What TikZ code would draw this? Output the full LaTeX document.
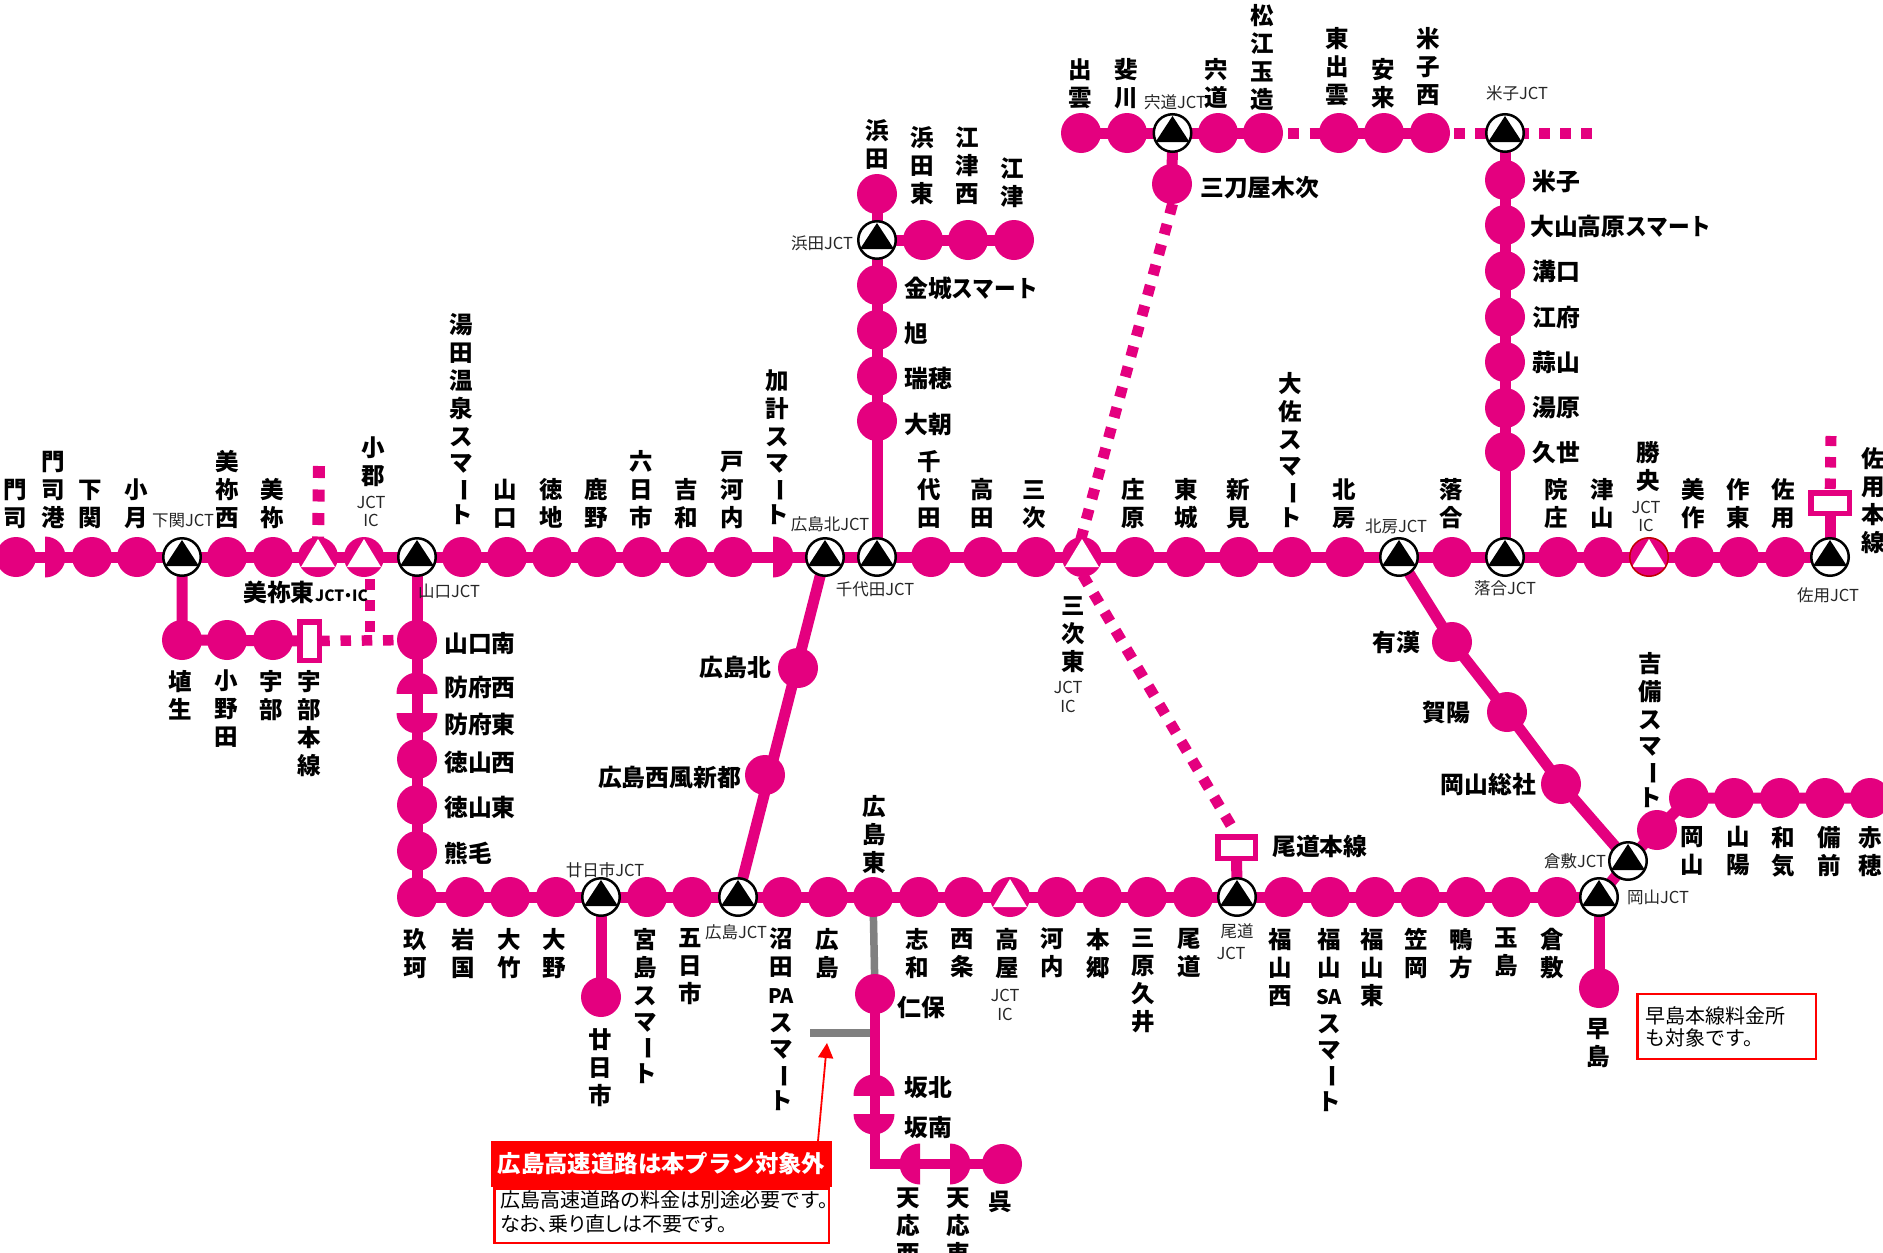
\documentclass[tikz,border=0pt]{standalone}
\usepackage{fontspec}
\usetikzlibrary{backgrounds,arrows.meta}
\newfontfamily\jpf{Noto Sans CJK JP}
\newfontfamily\jpp{Noto Sans CJK JP}[RawFeature=+palt]
\definecolor{rosen}{HTML}{E4007F}
\definecolor{darkic}{HTML}{C00000}
\newcounter{lb}
\newcommand\cho{\raisebox{2pt}[18pt][3pt]{\rotatebox[origin=c]{-90}{ー}}}
\newcommand\smv{ス\\[-2pt]マ\\[-2pt]\cho\\[-2pt]ト}
\newcommand\ltn[1]{{\fontsize{20}{28}\selectfont #1}}
\newcommand\smart{\scalebox{.91}[1]{スマート}}
\tikzset{
 stn/.style={circle,fill=rosen,inner sep=0,minimum size=40pt},
 jct/.style={circle,draw=black,line width=2.5pt,fill=white,inner sep=0,minimum size=37.5pt,
   path picture={\fill[black] ([shift={(0,-17)}]path picture bounding box.center) -- ([shift={(17,9)}]path picture bounding box.center) -- ([shift={(-17,9)}]path picture bounding box.center) -- cycle;}},
 ict/.style={stn,path picture={\fill[white] ([shift={(0,-18)}]path picture bounding box.center) -- ([shift={(17,10)}]path picture bounding box.center) -- ([shift={(-17,10)}]path picture bounding box.center) -- cycle;}},
 tbox/.style={rectangle,draw=rosen,line width=5.5pt,fill=white,inner sep=0},
 rail/.style={rosen,line width=11pt},
 dots/.style={rosen,line width=11pt,dash pattern=on 10.5pt off 10.6pt},
 grayrail/.style={draw=black!50,line width=7.5pt},
 vlab/.style={font=\jpf\bfseries\fontsize{23.5}{28}\selectfont,align=center,inner sep=0},
 hlab/.style={font=\jpf\bfseries\fontsize{23.8}{28}\selectfont,inner sep=0,anchor=base west,yshift=-8.7pt},
 slab/.style={font=\jpf\fontsize{16.5}{19}\selectfont,text=black!85,inner sep=0,anchor=base,yshift=-6pt},
 redbox/.style={rectangle,draw=red,line width=2.5pt,fill=white,inner sep=0,align=left}
}
% labels
\newcommand\ulab[3]{\stepcounter{lb}\node[vlab,anchor=south,text depth=0pt,yshift=-2pt] (lb\thelb) at (#1,#2) {#3};}
\newcommand\dlab[3]{\stepcounter{lb}\node[vlab,anchor=north,yshift=2pt] (lb\thelb) at (#1,#2) {#3};}
\newcommand\hlabl[3]{\stepcounter{lb}\node[hlab] (lb\thelb) at (#1,#2) {#3};}
\newcommand\hlabr[3]{\stepcounter{lb}\node[hlab,anchor=base east] (lb\thelb) at (#1,#2) {#3};}
\newcommand\smlab[3]{\stepcounter{lb}\node[slab] (lb\thelb) at (#1,#2) {#3};}
% half stations
\newcommand\hst[7]{\begin{scope}\clip ({#2+#4},{#3+#5}) rectangle ({#2+#6},{#3+#7});\node[stn,minimum size=41pt] (#1) at (#2,#3) {};\end{scope}}
\newcommand\halfR[3]{\hst{#1}{#2}{#3}{0}{-22}{22}{22}}
\newcommand\halfL[3]{\hst{#1}{#2}{#3}{-22}{-22}{0}{22}}
\newcommand\halfT[3]{\hst{#1}{#2}{#3}{-22}{-22}{22}{0}}
\newcommand\halfB[3]{\hst{#1}{#2}{#3}{-22}{0}{22}{22}}
\begin{document}
\begin{tikzpicture}[x=1pt,y=-1pt]
\useasboundingbox (0,0) rectangle (1883,1253);
% ---------- main upper line
\foreach \n/\x in {moji/16,shimo/92,ozuki/137,minesai/227,mine/273,yuda/462,yama/507,toku/552,kano/597,muika/642,yoshi/688,togo/733,chiyo/931,taka/983,miyo/1036,shobara/1135,tojo/1186,nii/1239,osa/1292,hokub/1345,ochi/1452,insho/1558,tsuya/1603,mima/1694,saku/1739,sayo/1785}
  \node[stn] (\n) at (\x,557) {};
\halfR{mojiko}{45}{557}
\halfR{kake}{773}{557}
\node[ict] (mineh) at (318,557) {};
\node[ict] (ogori) at (364,557) {};
\node[ict] (miyoh) at (1082,557) {};
\node[ict,draw=darkic,line width=1.5pt,minimum size=38.5pt] (shoo) at (1649,557) {};
\node[jct] (shimoJ) at (182,557) {};
\node[jct] (yamaJ) at (417,557) {};
\node[jct] (hkitaJ) at (825,557) {};
\node[jct] (chiyoJ) at (877,557) {};
\node[jct] (hokuJ) at (1399,557) {};
\node[jct] (ochiJ) at (1505,557) {};
\node[jct] (sayoJ) at (1830,557) {};
% ---------- ube branch
\foreach \n/\x in {habu/182,onoda/227,ube/273} \node[stn] (\n) at (\x,640) {};
\node[tbox,minimum width=19.5pt,minimum height=38.5pt] (ubeL) at (309.5,641) {};
% ---------- sanyo vertical
\foreach \n/\y in {yminami/640,tnishi/759,thigashi/805,kuma/851} \node[stn] (\n) at (417,\y) {};
\halfT{hnishi}{417}{693}
\halfB{hhigashi}{417}{713}
% ---------- lower line
\foreach \n/\x in {kuga/417,iwa/465,otake/510,ono/556,miya/647,itsu/692,numa/782,hiro/828,hhig/873,shiwa/919,saijo/964,kochi/1057,hongo/1102,mihara/1147,onomichi/1193,fnishi/1284,fsa/1330,fhig/1375,kasa/1420,kamo/1466,tama/1511,kura/1557}
  \node[stn] (\n) at (\x,897) {};
\node[ict] (takaya) at (1010,897) {};
\node[jct] (hatsuJ) at (601,897) {};
\node[jct] (hiroJ) at (738,897) {};
\node[jct] (onoJ) at (1237,897) {};
\node[jct] (okaJ) at (1599,897) {};
\node[jct] (kuraJ) at (1628,861) {};
\node[stn] (hatsu) at (601,997) {};
\node[stn] (hayashima) at (1599,988) {};
% ---------- hiroshima north
\node[stn] (hkita) at (798,668) {};
\node[stn] (hsei) at (765,775) {};
% ---------- hamada
\foreach \n/\y in {hama/194,kana/285,asahi/330,mizu/376,oasa/421} \node[stn] (\n) at (877,\y) {};
\node[jct] (hamaJ) at (877,240) {};
\foreach \n/\x in {hamah/923,gnishi/968,gotsu/1014} \node[stn] (\n) at (\x,240) {};
% ---------- top line
\foreach \n/\x in {izumo/1081,hikawa/1127,shinji/1218,matsue/1263,hizumo/1339,yasugi/1384,ynishi/1430} \node[stn] (\n) at (\x,133) {};
\node[jct] (shinjiJ) at (1172.5,133) {};
\node[jct] (yonaJ) at (1505,133) {};
\node[stn] (mito) at (1172,184) {};
% ---------- yonago down
\foreach \n/\y in {yona/180,dais/225,mizo/271,kofu/317,hiru/362,yuba/408,kuse/452} \node[stn] (\n) at (1505,\y) {};
% ---------- okayama diag
\node[stn] (uka) at (1452,642) {};
\node[stn] (kayo) at (1507,712) {};
\node[stn] (soja) at (1561,784) {};
\node[stn] (kibi) at (1657,830) {};
\foreach \n/\x in {oka/1689,sanyo/1734,wake/1780,bizen/1825,ako/1870} \node[stn] (\n) at (\x,798) {};
% ---------- hiroshima expressway
\node[stn] (nihou) at (875,994) {};
\halfT{sakak}{874}{1095}
\halfB{sakam}{874}{1114}
\halfL{tenw}{920}{1164}
\halfR{tene}{950}{1164}
\node[stn] (kure) at (1002,1164) {};
% ---------- toll boxes
\node[tbox,minimum width=38.5pt,minimum height=20.5pt] (sayoL) at (1830,503) {};
\node[tbox,minimum width=37.5pt,minimum height=21.5pt] (onoL) at (1236.5,847.5) {};
% ---------- free ends
\coordinate (minetop) at (319,466);
\coordinate (ogt) at (370,557);
\coordinate (ogb) at (370,640);
\coordinate (sayotop) at (1831,436);
\coordinate (yonaend) at (1592,133);
\coordinate (mitoend) at (1178,184);
\coordinate (miyotop) at (1076,557);
\coordinate (miyolow) at (1072,557);
\coordinate (onotop) at (1236,834);
\coordinate (g0) at (810,1033);
\coordinate (g1) at (870,1033);
\coordinate (a0) at (818,1141);
\coordinate (a1) at (827,1043);
% ---------- connectors
\begin{scope}[on background layer]
\fill[white] (0,0) rectangle (1883,1253);
\draw[rail] (moji.center) -- (sayoJ.center);
\draw[rail] (shimoJ.center) -- (habu.center) -- (ubeL.center);
\draw[dots,line width=12pt,dash pattern=on 12pt off 11.5pt,dash phase=15pt] (mineh.center) -- (minetop);
\draw[dots,line width=10.5pt,dash phase=20pt] (ogt) -- (ogb);
\draw[dots,line width=10.5pt,dash pattern=on 10.5pt off 10.75pt,dash phase=11.5pt] (ubeL.center) -- (yminami.center);
\draw[rail] (yamaJ.center) -- (kuga.center) -- (okaJ.center);
\draw[rail] (hatsuJ.center) -- (hatsu.center);
\draw[rail] (hkitaJ.center) -- (hiroJ.center);
\draw[rail] (chiyoJ.center) -- (hama.center);
\draw[rail] (hamaJ.center) -- (gotsu.center);
\draw[rail] (izumo.center) -- (matsue.center);
\draw[rail] (hizumo.center) -- (ynishi.center);
\draw[dots,dash pattern=on 10.5pt off 11pt,dash phase=18pt] (matsue.center) -- (hizumo.center);
\draw[dots,dash pattern=on 10.5pt off 10.5pt,dash phase=18pt] (ynishi.center) -- (yonaJ.center);
\draw[dots,dash pattern=on 10.5pt off 10.5pt,dash phase=8pt] (yonaJ.center) -- (yonaend);
\draw[rail] (shinjiJ.center) -- (mito.center);
\draw[rail] (yonaJ.center) -- (ochiJ.center);
\draw[rail] (sayoJ.center) -- (sayoL.center);
\draw[dots,dash pattern=on 10.5pt off 11pt,dash phase=7.5pt] (sayoL.center) -- (sayotop);
\draw[rail] (onoJ.center) -- (onoL.center);
\draw[dots,dash phase=.5pt] (mitoend) -- (miyotop);
\draw[dots,dash pattern=on 11pt off 10.5pt,dash phase=.5pt] (miyolow) -- (onotop);
\draw[rail] (hokuJ.center) -- (uka.center) -- (kayo.center) -- (soja.center) -- (kuraJ.center) -- (okaJ.center);
\draw[rail] (kuraJ.center) -- (kibi.center) -- (oka.center) -- (ako.center);
\draw[rail] (okaJ.center) -- (hayashima.center);
\draw[grayrail] (hhig.center) -- (nihou.center);
\draw[grayrail] (g0) -- (g1);
\draw[rail,line width=10pt] (nihou.center) |- (kure.center);
\end{scope}
% ---------- notes
\draw[red,line width=1.8pt,-{Triangle[length=15pt,width=15pt]}] (a0) -- (a1);
\node[redbox,minimum width=334.5pt,minimum height=54.5pt] (note1) at (661.5,1215.5) {};
\node[inner sep=0,text width=323pt,align=left,font=\jpf\fontsize{20}{24}\selectfont] (note1t) at (661.5,1212) {広島高速道路の料金は別途必要です。\\{\jpp なお、乗り直しは不要です。}};
\node[rectangle,fill=red,inner sep=0,minimum width=341pt,minimum height=46pt,text=white,font=\jpf\bfseries\fontsize{23.4}{28}\selectfont] (hdr) at (661.5,1164) {\raisebox{-2pt}{広島高速道路は本プラン対象外}};
\node[redbox,minimum width=178.5pt,minimum height=65pt,text width=163pt,font=\jpf\fontsize{20}{22}\selectfont] (note2) at (1726.5,1026.5) {早島本線料金所\\も対象です。};
% ---------- upper labels main line
\ulab{15}{525}{門\\司}
\ulab{53}{525}{門\\司\\港}
\ulab{90}{525}{下\\関}
\ulab{136}{525}{小\\月}
\ulab{227}{525}{美\\祢\\西}
\ulab{272}{525}{美\\祢}
\ulab{373}{483}{小\\郡}
\ulab{461}{522}{湯\\田\\温\\泉\\\smv}
\ulab{505}{525}{山\\口}
\ulab{551}{525}{徳\\地}
\ulab{596}{525}{鹿\\野}
\ulab{641}{525}{六\\日\\市}
\ulab{686}{525}{吉\\和}
\ulab{732}{525}{戸\\河\\内}
\ulab{777}{522}{加\\計\\\smv}
\ulab{929}{525}{千\\代\\田}
\ulab{982}{525}{高\\田}
\ulab{1034}{525}{三\\次}
\ulab{1133}{525}{庄\\原}
\ulab{1186}{525}{東\\城}
\ulab{1238}{525}{新\\見}
\ulab{1290}{525}{大\\佐\\\smv}
\ulab{1344}{525}{北\\房}
\ulab{1451}{525}{落\\合}
\ulab{1556}{525}{院\\庄}
\ulab{1602}{525}{津\\山}
\ulab{1648}{488}{勝\\央}
\ulab{1693}{525}{美\\作}
\ulab{1738}{525}{作\\東}
\ulab{1783}{525}{佐\\用}
\ulab{1873}{550}{佐\\用\\本\\線}
% lower labels
\dlab{180}{672}{埴\\生}
\dlab{226}{672}{小\\野\\田}
\dlab{271}{672}{宇\\部}
\dlab{309}{672}{宇\\部\\本\\線}
\dlab{415}{930}{玖\\珂}
\dlab{463}{930}{岩\\国}
\dlab{509}{930}{大\\竹}
\dlab{554}{930}{大\\野}
\dlab{645}{930}{宮\\島\\\smv}
\dlab{690}{930}{五\\日\\市}
\dlab{781}{930}{沼\\田\\\ltn{PA}\\\smv}
\dlab{827}{930}{広\\島}
\ulab{874}{870}{広\\島\\東}
\dlab{917}{930}{志\\和}
\dlab{962}{930}{西\\条}
\dlab{1007}{930}{高\\屋}
\dlab{1052}{930}{河\\内}
\dlab{1098}{930}{本\\郷}
\dlab{1143}{930}{三\\原\\久\\井}
\dlab{1189}{930}{尾\\道}
\dlab{1280}{930}{福\\山\\西}
\dlab{1329}{930}{福\\山\\\ltn{SA}\\\smv}
\dlab{1372}{930}{福\\山\\東}
\dlab{1416}{930}{笠\\岡}
\dlab{1461}{930}{鴨\\方}
\dlab{1506}{930}{玉\\島}
\dlab{1552}{930}{倉\\敷}
\dlab{600}{1030}{廿\\日\\市}
\dlab{1598}{1020}{早\\島}
\dlab{908}{1190}{天\\応\\西}
\dlab{958}{1190}{天\\応\\東}
\dlab{1000}{1193}{呉}
\dlab{1692}{828}{岡\\山}
\dlab{1738}{828}{山\\陽}
\dlab{1783}{828}{和\\気}
\dlab{1829}{828}{備\\前}
\dlab{1870}{828}{赤\\穂}
\ulab{1650}{805}{吉\\備\\\smv}
\dlab{1073}{598}{三\\次\\東}
% top labels
\ulab{877}{166}{浜\\田}
\ulab{922}{201}{浜\\田\\東}
\ulab{967}{201}{江\\津\\西}
\ulab{1012}{204}{江\\津}
\ulab{1080}{105}{出\\雲}
\ulab{1126}{105}{斐\\川}
\ulab{1216}{105}{宍\\道}
\ulab{1262}{107}{松\\江\\玉\\造}
\ulab{1337}{102}{東\\出\\雲}
\ulab{1383}{105}{安\\来}
\ulab{1428}{102}{米\\子\\西}
% horizontal labels
\hlabl{444}{644}{山口南}
\hlabl{444}{688}{防府西}
\hlabl{444}{725}{防府東}
\hlabl{444}{763}{徳山西}
\hlabl{444}{808}{徳山東}
\hlabl{444}{854}{熊毛}
\hlabl{1200}{188}{三刀屋木次}
\hlabl{1532}{182}{米子}
\hlabl{1530}{227}{大山高原\smart}
\hlabl{1532}{272}{溝口}
\hlabl{1532}{318}{江府}
\hlabl{1532}{363}{蒜山}
\hlabl{1532}{408}{湯原}
\hlabl{1532}{453}{久世}
\hlabl{904}{289}{金城\smart}
\hlabl{904}{334}{旭}
\hlabl{904}{379}{瑞穂}
\hlabl{904}{425}{大朝}
\hlabr{771}{668}{広島北}
\hlabr{741}{778}{広島西風新都}
\hlabr{1420}{643}{有漢}
\hlabr{1470}{713}{賀陽}
\hlabr{1536}{785}{岡山総社}
\hlabl{1272}{847}{尾道本線}
\hlabl{897}{1008}{仁保}
\hlabl{904}{1088}{坂北}
\hlabl{904}{1128}{坂南}
\hlabl{243}{593}{美祢東}
\stepcounter{lb}\node[hlab,font=\jpp\bfseries\fontsize{15.5}{18}\selectfont,yshift=2.5pt] (lb\thelb) at (315,595) {JCT・IC};
% small labels
\smlab{183}{520}{下関JCT}
\smlab{449}{591}{山口JCT}
\smlab{830}{524}{広島北JCT}
\smlab{875}{589}{千代田JCT}
\smlab{1396}{526}{北房JCT}
\smlab{1505}{588}{落合JCT}
\smlab{1828}{595}{佐用JCT}
\smlab{822}{243}{浜田JCT}
\smlab{1175}{102}{宍道JCT}
\smlab{1517}{93}{米子JCT}
\smlab{605}{870}{廿日市JCT}
\smlab{736}{932}{広島JCT}
\smlab{1237}{931}{尾道}
\smlab{1231}{953}{JCT}
\smlab{1575}{861}{倉敷JCT}
\smlab{1658}{897}{岡山JCT}
\smlab{371}{502}{JCT}
\smlab{371}{520}{IC}
\smlab{1646}{507}{JCT}
\smlab{1646}{525}{IC}
\smlab{1068}{687}{JCT}
\smlab{1068}{706}{IC}
\smlab{1005}{995}{JCT}
\smlab{1005}{1014}{IC}
\end{tikzpicture}
\end{document}
